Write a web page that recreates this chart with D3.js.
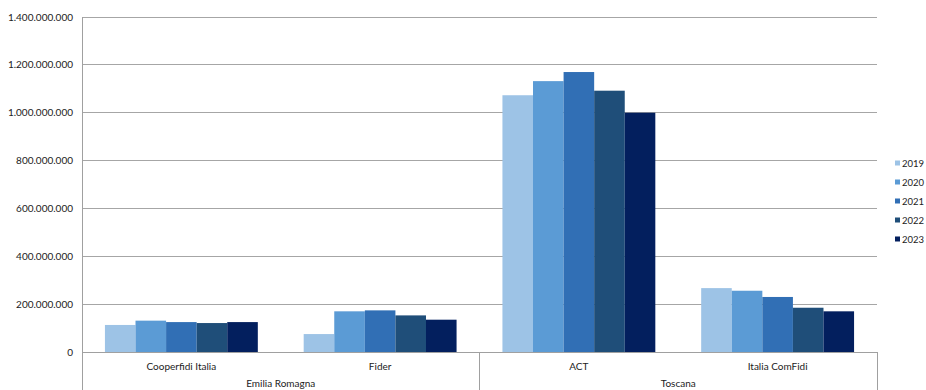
<!DOCTYPE html>
<html>
<head>
<meta charset="utf-8">
<script src="https://cdn.jsdelivr.net/npm/d3@7/dist/d3.min.js"></script>
<style>
  html, body { margin: 0; padding: 0; background: #fff; overflow: hidden; }
  svg { display: block; font-family: Lato, "Open Sans", sans-serif; }
</style>
</head>
<body>
<svg id="chart" width="926" height="390"></svg>
<script>
// Garanzie per confidi, raggruppate per regione
const categories = ["Cooperfidi Italia", "Fider", "ACT", "Italia ComFidi"];
const regions = [
  { name: "Emilia Romagna", from: 0, to: 1 },
  { name: "Toscana", from: 2, to: 3 }
];
const years = ["2019", "2020", "2021", "2022", "2023"];
const v2019 = [113000000, 75000000, 1073000000, 267000000];
const v2020 = [131000000, 170000000, 1132000000, 256000000];
const v2021 = [125000000, 174000000, 1170000000, 230000000];
const v2022 = [121000000, 153000000, 1092000000, 185000000];
const v2023 = [125000000, 135000000, 1000000000, 170000000];
const seriesValues = [v2019, v2020, v2021, v2022, v2023];
const yTicks = [0, 200000000, 400000000, 600000000, 800000000, 1000000000, 1200000000, 1400000000];
const colors = ["#9dc3e6", "#5b9bd5", "#316fb5", "#1f4e79", "#031f5e"];

const svg = d3.select("#chart");
const margin = { left: 82, right: 49, top: 17 };
const plotRight = 926 - margin.right;
const zeroY = 352;

const x = d3.scaleBand().domain(categories).range([margin.left, plotRight]).paddingInner(0).paddingOuter(0);
const inner = d3.scaleBand().domain(years).range([0, x.bandwidth()]).paddingOuter(0.75).paddingInner(0);
const y = d3.scaleLinear().domain([0, 1400000000]).range([zeroY, margin.top]);

const fmt = d => d3.format(",")(d).replace(/,/g, ".");

// griglia orizzontale
svg.append("g")
  .selectAll("line").data(yTicks.filter(t => t > 0)).join("line")
  .attr("x1", margin.left).attr("x2", plotRight)
  .attr("y1", d => y(d)).attr("y2", d => y(d))
  .attr("stroke", "#a6a6a6").attr("stroke-width", 1)
  .attr("shape-rendering", "crispEdges");

// etichette asse Y
svg.append("g")
  .selectAll("text").data(yTicks).join("text")
  .attr("x", 73).attr("y", d => y(d) + 3.5)
  .attr("text-anchor", "end")
  .attr("font-size", 10).attr("fill", "#222")
  .text(d => fmt(d));

// barre
const rows = categories.map((c, i) => ({ cat: c, vals: years.map((yr, k) => ({ year: yr, k, v: seriesValues[k][i] })) }));
svg.append("g")
  .selectAll("g").data(rows).join("g")
  .attr("transform", d => `translate(${x(d.cat)},0)`)
  .selectAll("rect").data(d => d.vals).join("rect")
  .attr("x", d => inner(d.year))
  .attr("width", inner.bandwidth())
  .attr("y", d => y(d.v))
  .attr("height", d => y(0) - y(d.v))
  .attr("fill", d => colors[d.k]);

// assi
const axisColor = "#a0a0a0";
svg.append("line")
  .attr("x1", margin.left).attr("x2", margin.left).attr("y1", margin.top).attr("y2", 390)
  .attr("stroke", axisColor).attr("shape-rendering", "crispEdges");
svg.append("line")
  .attr("x1", margin.left).attr("x2", plotRight).attr("y1", zeroY).attr("y2", zeroY)
  .attr("stroke", axisColor).attr("shape-rendering", "crispEdges");

// separatori dei gruppi regionali
const bounds = regions.map(r => x(categories[r.to]) + x.bandwidth());
svg.append("g")
  .selectAll("line").data(bounds).join("line")
  .attr("x1", d => d).attr("x2", d => d).attr("y1", zeroY).attr("y2", 390)
  .attr("stroke", axisColor).attr("shape-rendering", "crispEdges");

// etichette categorie
svg.append("g")
  .selectAll("text").data(categories).join("text")
  .attr("x", d => x(d) + x.bandwidth() / 2).attr("y", 370)
  .attr("text-anchor", "middle").attr("font-size", 10).attr("fill", "#222")
  .text(d => d);

// etichette regioni
svg.append("g")
  .selectAll("text").data(regions).join("text")
  .attr("x", d => (x(categories[d.from]) + x(categories[d.to]) + x.bandwidth()) / 2)
  .attr("y", 387)
  .attr("text-anchor", "middle").attr("font-size", 10).attr("fill", "#222")
  .text(d => d.name);

// legenda
const legend = svg.append("g").selectAll("g").data(years).join("g")
  .attr("transform", (d, i) => `translate(895,${163 + i * 19})`);
legend.append("rect").attr("x", 0).attr("y", -2.5).attr("width", 5).attr("height", 5)
  .attr("fill", (d, i) => colors[i]);
legend.append("text").attr("x", 7).attr("y", 3.5)
  .attr("font-size", 9.5).attr("fill", "#222").text(d => d);
</script>
</body>
</html>
